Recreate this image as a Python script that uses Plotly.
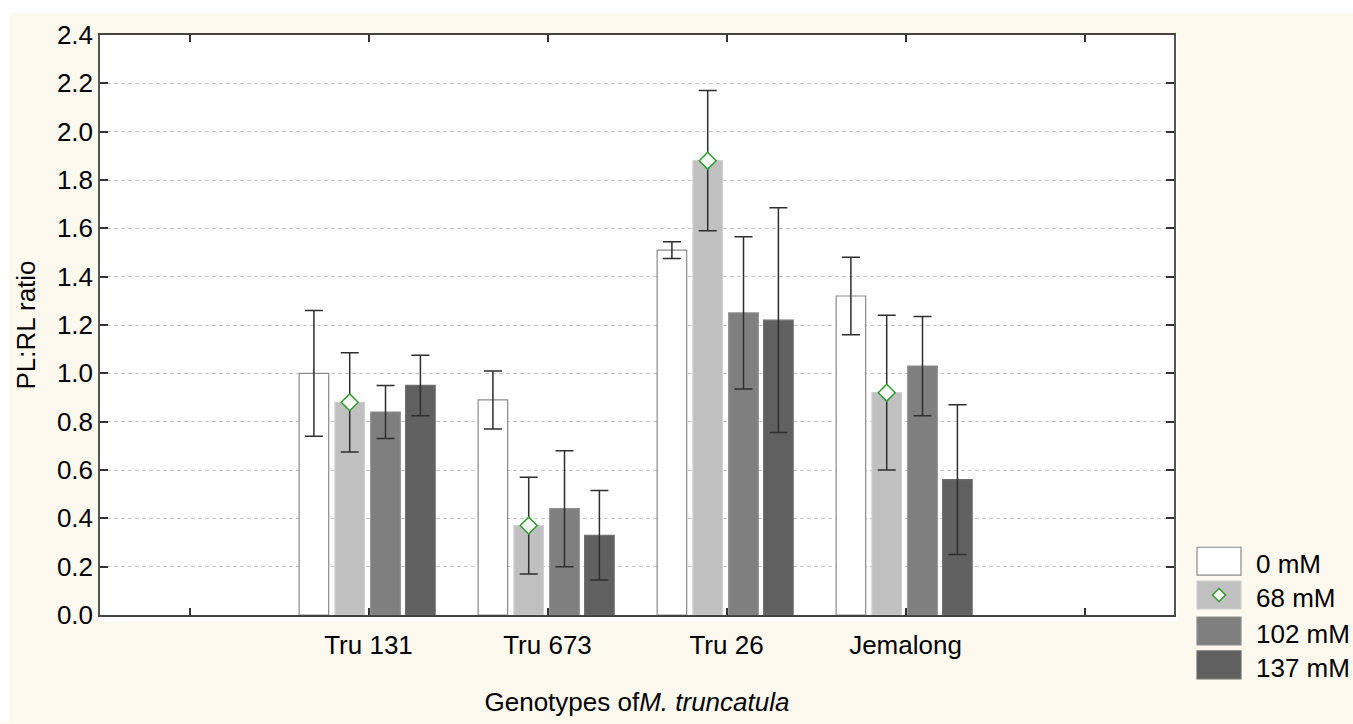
import plotly.graph_objects as go

# PL:RL ratio of four M. truncatula genotypes under four NaCl levels
genotypes = ["Tru 131", "Tru 673", "Tru 26", "Jemalong"]
treatments = ["0 mM", "68 mM", "102 mM", "137 mM"]

ratio_0 = [1.00, 0.89, 1.51, 1.32]
ratio_68 = [0.88, 0.37, 1.88, 0.92]
ratio_102 = [0.84, 0.44, 1.25, 1.03]
ratio_137 = [0.95, 0.33, 1.22, 0.56]

err_0 = [0.26, 0.12, 0.035, 0.16]
err_68 = [0.205, 0.20, 0.29, 0.32]
err_102 = [0.11, 0.24, 0.315, 0.205]
err_137 = [0.125, 0.185, 0.465, 0.31]

y_ticks = [0.0, 0.2, 0.4, 0.6, 0.8, 1.0, 1.2, 1.4, 1.6, 1.8, 2.0, 2.2, 2.4]

# styling
FONT = "Liberation Sans, Arial, sans-serif"
CREAM = "#fdf9ef"
fills = ["#ffffff", "#c0c0c0", "#7f7f7f", "#606060"]
edges = ["#8a8a8a", "#cfcfcf", "#8c8c8c", "#6c6c6c"]
MARKER_GREEN = "#2f9a2f"

W, H = 1353, 724
M_L, M_R, M_T, M_B = 100, 179, 35, 107
PW, PH = W - M_L - M_R, H - M_T - M_B

# category slots: one empty slot on each side of the four genotypes
slot_pos = list(range(1, len(genotypes) + 1))
tick_pos = list(range(0, len(genotypes) + 2))
tick_txt = [""] + genotypes + [""]

bar_w = 0.165
offsets = [-0.305, -0.105, 0.095, 0.29]

series = [ratio_0, ratio_68, ratio_102, ratio_137]
errors = [err_0, err_68, err_102, err_137]

fig = go.Figure()
for k, (vals, errs) in enumerate(zip(series, errors)):
    xs = [p + offsets[k] for p in slot_pos]
    fig.add_trace(go.Bar(
        x=xs, y=vals, width=bar_w, name=treatments[k],
        marker=dict(color=fills[k], line=dict(color=edges[k], width=1.2)),
        error_y=dict(type="data", array=errs, visible=True,
                     color="#2e2e2e", thickness=1.5, width=9),
        showlegend=False,
    ))

# diamond markers on the 68 mM series
fig.add_trace(go.Scatter(
    x=[p + offsets[1] for p in slot_pos], y=ratio_68, mode="markers",
    marker=dict(symbol="diamond", size=13, color="white",
                line=dict(color=MARKER_GREEN, width=1.5)),
    showlegend=False,
))


def px_x(px):
    return (px - M_L) / PW


def px_y(py):
    return (H - M_B - py) / PH


shapes = [
    # white page strips above and left of the cream panel
    dict(type="rect", xref="paper", yref="paper", layer="below",
         x0=px_x(0), x1=px_x(W), y0=px_y(13), y1=px_y(0),
         fillcolor="white", line=dict(width=0)),
    dict(type="rect", xref="paper", yref="paper", layer="below",
         x0=px_x(0), x1=px_x(9), y0=px_y(H), y1=px_y(0),
         fillcolor="white", line=dict(width=0)),
    # white frame just around the plotting area
    dict(type="rect", xref="paper", yref="paper", layer="below",
         x0=0, x1=px_x(M_L + PW + 4), y0=px_y(H - M_B + 6), y1=1,
         fillcolor="white", line=dict(width=0)),
]

annotations = []
# legend: large swatches with labels
leg_x0, leg_x1 = 1197, 1241
leg_top = [549, 583, 619, 653]
sw_h = 28
for k, name in enumerate(treatments):
    t = leg_top[k]
    shapes.append(dict(
        type="rect", xref="paper", yref="paper",
        x0=px_x(leg_x0), x1=px_x(leg_x1), y0=px_y(t + sw_h), y1=px_y(t),
        fillcolor=fills[k], line=dict(color=edges[k], width=1.2),
    ))
    annotations.append(dict(
        xref="paper", yref="paper", x=px_x(1254), y=px_y(t + sw_h / 2 + 3),
        text=name, showarrow=False, xanchor="left", yanchor="middle",
        font=dict(family=FONT, size=26, color="black"),
    ))
# diamond symbol inside the 68 mM swatch
cx, cy = (leg_x0 + leg_x1) / 2, leg_top[1] + sw_h / 2
d = 6.5
path = "M {} {} L {} {} L {} {} L {} {} Z".format(
    px_x(cx), px_y(cy - d), px_x(cx + d), px_y(cy),
    px_x(cx), px_y(cy + d), px_x(cx - d), px_y(cy))
shapes.append(dict(type="path", xref="paper", yref="paper", path=path,
                   fillcolor="white", line=dict(color=MARKER_GREEN, width=1.5)))

fig.update_layout(
    width=W, height=H,
    margin=dict(l=M_L, r=M_R, t=M_T, b=M_B, pad=0),
    paper_bgcolor=CREAM, plot_bgcolor="white",
    barmode="overlay",
    font=dict(family=FONT, size=24, color="black"),
    shapes=shapes, annotations=annotations,
    xaxis=dict(
        range=[-0.5, len(genotypes) + 1.5],
        tickmode="array", tickvals=tick_pos, ticktext=tick_txt,
        ticks="inside", ticklen=7, tickwidth=1.5, tickcolor="#333",
        showline=True, linecolor="#444", linewidth=1.5, mirror="ticks",
        showgrid=False, zeroline=False,
        tickfont=dict(family=FONT, size=26),
        ticklabelstandoff=6,
        title=dict(text="Genotypes of<i>M. truncatula</i>",
                   font=dict(family=FONT, size=26), standoff=34),
    ),
    yaxis=dict(
        range=[0, 2.4],
        tickmode="array", tickvals=y_ticks,
        tickformat=".1f",
        ticks="inside", ticklen=8, tickwidth=1.5, tickcolor="#333",
        showline=True, linecolor="#555", linewidth=1.5, mirror="ticks",
        showgrid=True, gridcolor="#c8c8c8", gridwidth=1, griddash="4px,3px",
        zeroline=False,
        tickfont=dict(family=FONT, size=26),
        title=dict(text="PL:RL ratio", font=dict(family=FONT, size=26),
                   standoff=14),
    ),
)

fig.write_html("out.html")
